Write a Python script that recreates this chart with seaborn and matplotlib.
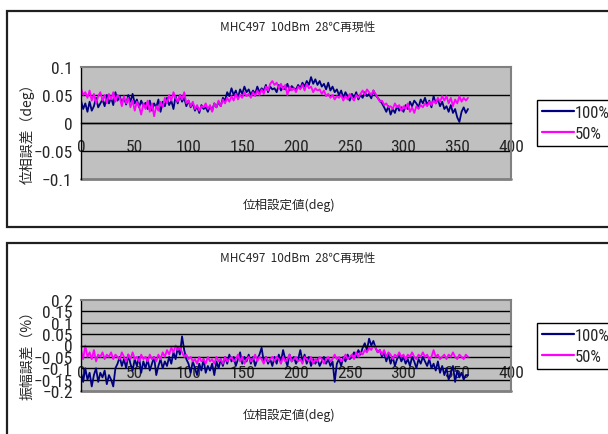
import numpy as np
import pandas as pd
import matplotlib
matplotlib.use("Agg")
import matplotlib.pyplot as plt
from matplotlib import font_manager
from matplotlib.font_manager import FontProperties
from matplotlib.patches import Rectangle
from matplotlib.lines import Line2D
import matplotlib.ticker as mticker
import seaborn as sns

# ---------------- data ----------------
deg = list(range(0, 361, 2))

phase_100 = [
    0.040, 0.025, 0.035, 0.020, 0.038, 0.022, 0.030, 0.045, 0.028, 0.035,
    0.042, 0.030, 0.050, 0.035, 0.045, 0.032, 0.055, 0.040, 0.048, 0.036,
    0.045, 0.033, 0.050, 0.038, 0.052, 0.035, 0.042, 0.028, 0.040, 0.030,
    0.036, 0.025, 0.040, 0.022, 0.035, 0.028, 0.042, 0.020, 0.038, 0.030,
    0.045, 0.032, 0.040, 0.025, 0.048, 0.035, 0.050, 0.038, 0.045, 0.030,
    0.040, 0.028, 0.035, 0.022, 0.030, 0.018, 0.032, 0.025, 0.028, 0.020,
    0.030, 0.022, 0.035, 0.028, 0.038, 0.030, 0.045, 0.040, 0.055, 0.048,
    0.062, 0.050, 0.058, 0.045, 0.060, 0.052, 0.065, 0.055, 0.060, 0.050,
    0.058, 0.052, 0.065, 0.055, 0.062, 0.058, 0.068, 0.055, 0.065, 0.060,
    0.062, 0.055, 0.068, 0.058, 0.065, 0.060, 0.070, 0.058, 0.066, 0.062,
    0.060, 0.068, 0.062, 0.072, 0.065, 0.075, 0.068, 0.082, 0.070, 0.078,
    0.068, 0.075, 0.065, 0.070, 0.060, 0.072, 0.058, 0.065, 0.055, 0.060,
    0.050, 0.058, 0.045, 0.055, 0.048, 0.040, 0.052, 0.045, 0.055, 0.042,
    0.050, 0.045, 0.055, 0.048, 0.052, 0.044, 0.058, 0.050, 0.045, 0.040,
    0.035, 0.028, 0.020, 0.030, 0.015, 0.025, 0.018, 0.030, 0.022, 0.028,
    0.020, 0.032, 0.025, 0.038, 0.030, 0.040, 0.035, 0.028, 0.042, 0.035,
    0.045, 0.032, 0.040, 0.028, 0.048, 0.035, 0.042, 0.030, 0.038, 0.025,
    0.030, 0.020, 0.032, 0.018, 0.025, 0.010, 0.002, 0.020, 0.028, 0.018,
    0.025,
]

phase_50 = [
    0.062, 0.050, 0.055, 0.045, 0.058, 0.040, 0.052, 0.035, 0.048, 0.055,
    0.040, 0.050, 0.035, 0.052, 0.042, 0.055, 0.038, 0.050, 0.045, 0.030,
    0.048, 0.035, 0.045, 0.028, 0.040, 0.022, 0.038, 0.030, 0.015, 0.035,
    0.025, 0.040, 0.020, 0.035, 0.012, 0.030, 0.022, 0.038, 0.028, 0.045,
    0.035, 0.050, 0.040, 0.055, 0.045, 0.038, 0.050, 0.042, 0.055, 0.035,
    0.040, 0.030, 0.038, 0.025, 0.032, 0.022, 0.030, 0.028, 0.035, 0.025,
    0.032, 0.020, 0.035, 0.028, 0.040, 0.030, 0.042, 0.035, 0.045, 0.038,
    0.048, 0.040, 0.052, 0.042, 0.050, 0.045, 0.055, 0.048, 0.052, 0.045,
    0.055, 0.048, 0.058, 0.050, 0.060, 0.052, 0.065, 0.058, 0.070, 0.075,
    0.068, 0.072, 0.062, 0.070, 0.060, 0.068, 0.050, 0.065, 0.058, 0.062,
    0.055, 0.065, 0.060, 0.068, 0.058, 0.070, 0.062, 0.065, 0.055, 0.062,
    0.058, 0.060, 0.052, 0.058, 0.048, 0.052, 0.045, 0.050, 0.042, 0.048,
    0.045, 0.050, 0.040, 0.048, 0.042, 0.052, 0.045, 0.040, 0.050, 0.045,
    0.052, 0.058, 0.050, 0.060, 0.055, 0.050, 0.058, 0.052, 0.045, 0.038,
    0.040, 0.032, 0.035, 0.028, 0.030, 0.025, 0.035, 0.028, 0.032, 0.022,
    0.030, 0.025, 0.035, 0.020, 0.028, 0.018, 0.030, 0.025, 0.032, 0.028,
    0.035, 0.030, 0.038, 0.032, 0.040, 0.035, 0.045, 0.038, 0.048, 0.040,
    0.048, 0.035, 0.045, 0.030, 0.042, 0.035, 0.048, 0.038, 0.045, 0.040,
    0.045,
]

amp_100 = [
    -0.12, -0.16, -0.10, -0.15, -0.12, -0.18, -0.13, -0.10, -0.16, -0.12,
    -0.14, -0.11, -0.17, -0.13, -0.15, -0.18, -0.10, -0.08, -0.05, -0.09,
    -0.06, -0.10, -0.04, -0.08, -0.11, -0.06, -0.09, -0.05, -0.12, -0.07,
    -0.10, -0.06, -0.11, -0.08, -0.05, -0.13, -0.09, -0.06, -0.10, -0.07,
    -0.09, -0.05, -0.08, -0.03, -0.06, -0.01, -0.04, 0.04, -0.02, -0.06,
    -0.08, -0.12, -0.07, -0.10, -0.13, -0.08, -0.11, -0.06, -0.12, -0.09,
    -0.11, -0.08, -0.13, -0.07, -0.10, -0.06, -0.09, -0.05, -0.08, -0.04,
    -0.07, -0.05, -0.09, -0.06, -0.03, -0.08, -0.05, -0.07, -0.04, -0.08,
    -0.05, -0.09, -0.06, -0.04, -0.01, -0.07, -0.05, -0.08, -0.06, -0.09,
    -0.05, -0.08, -0.04, -0.07, -0.02, -0.06, -0.09, -0.04, -0.07, -0.05,
    -0.08, -0.06, -0.02, -0.07, -0.04, -0.08, -0.05, -0.09, -0.06, -0.08,
    -0.06, -0.09, -0.07, -0.05, -0.08, -0.06, -0.09, -0.07, -0.16, -0.08,
    -0.06, -0.09, -0.05, -0.07, -0.04, -0.06, -0.05, -0.03, -0.05, -0.02,
    -0.04, -0.01, 0.01, -0.02, 0.03, 0.00, 0.02, -0.01, -0.03, -0.02,
    -0.05, -0.03, -0.07, -0.04, -0.08, -0.05, -0.09, -0.06, -0.04, -0.07,
    -0.05, -0.08, -0.06, -0.09, -0.05, -0.07, -0.10, -0.06, -0.08, -0.05,
    -0.07, -0.09, -0.06, -0.10, -0.08, -0.11, -0.07, -0.12, -0.09, -0.13,
    -0.10, -0.15, -0.12, -0.09, -0.16, -0.11, -0.14, -0.12, -0.15, -0.13,
    -0.13,
]

amp_50 = [
    -0.02, -0.06, 0.00, -0.05, -0.03, -0.06, -0.02, -0.07, -0.04, -0.05,
    -0.03, -0.06, -0.04, -0.05, -0.03, -0.06, -0.04, -0.05, -0.06, -0.03,
    -0.05, -0.07, -0.04, -0.06, -0.03, -0.06, -0.05, -0.07, -0.04, -0.06,
    -0.05, -0.07, -0.04, -0.06, -0.05, -0.07, -0.04, -0.06, -0.03, -0.05,
    -0.02, -0.04, -0.01, -0.03, 0.00, -0.02, -0.01, -0.03, -0.05, -0.04,
    -0.06, -0.05, -0.07, -0.06, -0.08, -0.05, -0.07, -0.06, -0.08, -0.05,
    -0.07, -0.06, -0.08, -0.05, -0.07, -0.06, -0.08, -0.05, -0.07, -0.06,
    -0.05, -0.07, -0.06, -0.04, -0.07, -0.05, -0.08, -0.06, -0.05, -0.07,
    -0.06, -0.04, -0.07, -0.05, -0.06, -0.08, -0.05, -0.07, -0.06, -0.05,
    -0.07, -0.05, -0.06, -0.08, -0.05, -0.07, -0.06, -0.04, -0.07, -0.06,
    -0.05, -0.07, -0.06, -0.08, -0.05, -0.06, -0.07, -0.05, -0.08, -0.06,
    -0.07, -0.05, -0.06, -0.08, -0.06, -0.05, -0.07, -0.06, -0.04, -0.06,
    -0.05, -0.07, -0.06, -0.04, -0.06, -0.05, -0.04, -0.06, -0.03, -0.05,
    -0.03, -0.04, -0.02, -0.03, -0.01, -0.02, 0.00, -0.01, -0.03, -0.02,
    -0.04, -0.02, -0.05, -0.03, -0.04, -0.06, -0.04, -0.05, -0.03, -0.05,
    -0.04, -0.06, -0.04, -0.05, -0.03, -0.05, -0.06, -0.04, -0.05, -0.03,
    -0.05, -0.04, -0.06, -0.05, -0.02, -0.05, -0.04, -0.06, -0.05, -0.04,
    -0.06, -0.04, -0.05, -0.03, -0.05, -0.06, -0.04, -0.05, -0.06, -0.04,
    -0.05,
]

series_names = ["100%", "50%"]
series_colors = ["#000080", "#FF00FF"]

title_text = "MHC497  10dBm  28℃再現性"
xlabel_text = "位相設定値(deg)"
ylabel_top = "位相誤差（deg）"
ylabel_bot = "振幅誤差（%）"

x_ticks = [0, 50, 100, 150, 200, 250, 300, 350, 400]
x_ticklabels = ["0", "50", "100", "150", "200", "250", "300", "350", "400"]
y_ticks_top = [-0.1, -0.05, 0, 0.05, 0.1]
y_ticklabels_top = ["\u22120.1", "\u22120.05", "0", "0.05", "0.1"]
y_ticks_bot = [-0.2, -0.15, -0.1, -0.05, 0, 0.05, 0.1, 0.15, 0.2]
y_ticklabels_bot = ["\u22120.2", "\u22120.15", "\u22120.1", "\u22120.05", "0",
                    "0.05", "0.1", "0.15", "0.2"]

# ---------------- fonts ----------------
entries = font_manager.fontManager.ttflist


def is_regular(f):
    w = f.weight
    return f.style == "normal" and (w in (400, "normal", "regular", "book"))


narrow_path = None
for key in ["Liberation Sans Narrow", "Roboto Condensed", "Open Sans Condensed",
            "Noto Sans Condensed", "DejaVu Sans Condensed"]:
    for f in entries:
        if is_regular(f) and (f.name == key or
                              (key.startswith(f.name) and "ondensed" in f.fname) or
                              key.replace(" ", "") in f.fname.replace("-", "").replace("_", "")):
            narrow_path = f.fname
            break
    if narrow_path:
        break
if narrow_path is None:
    for f in entries:
        if is_regular(f) and str(f.stretch) in ("condensed", "semi-condensed",
                                                 "extra-condensed", "ultra-condensed"):
            narrow_path = f.fname
            break

if narrow_path:
    num_fp = FontProperties(fname=narrow_path, size=12.5)
    leg_fp = FontProperties(fname=narrow_path, size=12)
else:
    num_fp = FontProperties(family="Liberation Sans", size=11)
    leg_fp = FontProperties(family="Liberation Sans", size=10.5)

cjk = ["Noto Sans CJK JP", "DejaVu Sans"]

sns.set_style("white")
plt.rcParams["font.family"] = ["Liberation Sans", "Noto Sans CJK JP", "DejaVu Sans"]
plt.rcParams["axes.unicode_minus"] = True

W, H = 608, 435
fig = plt.figure(figsize=(W / 100, H / 100), dpi=100)


def fx(px):
    return px / W


def fy(py):
    return 1 - py / H


# outer chart boxes (behind the axes)
for top_px, bot_px in [(12, 228), (244, 460)]:
    fig.patches.append(Rectangle((fx(7), fy(bot_px)), fx(640 - 7), (bot_px - top_px) / H,
                                 transform=fig.transFigure, facecolor="white",
                                 edgecolor="#202020", linewidth=1.6, zorder=-10))


def make_panel(rect_px, y_a, y_b, yticks, yticklabels, ylabel, ylabel_x, title_y,
               xlabel_y, label_pad, legend_cy):
    l, t, r, b = rect_px
    ax = fig.add_axes([fx(l), fy(b), (r - l) / W, (b - t) / H])
    ax.set_zorder(5)
    ax.set_facecolor("#C0C0C0")
    df = pd.DataFrame({
        "deg": deg * 2,
        "err": list(y_a) + list(y_b),
        "series": [series_names[0]] * len(deg) + [series_names[1]] * len(deg),
    })
    sns.lineplot(data=df, x="deg", y="err", hue="series", hue_order=series_names,
                 palette=dict(zip(series_names, series_colors)), ax=ax,
                 legend=False, linewidth=1.3, estimator=None, sort=False)
    ax.set_xlim(0, 400)
    ax.set_ylim(yticks[0], yticks[-1])
    ax.set_yticks(yticks)
    ax.yaxis.set_major_formatter(mticker.FixedFormatter(yticklabels))
    ax.set_xticks(x_ticks)
    ax.xaxis.set_major_formatter(mticker.FixedFormatter(x_ticklabels))
    for yv in yticks[1:-1]:
        ax.axhline(yv, color="black", lw=1.0, zorder=1)
    ax.spines["bottom"].set_position(("data", 0))
    ax.spines["bottom"].set_color("black")
    ax.spines["bottom"].set_linewidth(1.0)
    ax.spines["left"].set_color("black")
    ax.spines["left"].set_linewidth(1.0)
    for s in ["top", "right"]:
        ax.spines[s].set_color("#808080")
        ax.spines[s].set_linewidth(1.5)
    ax.axhline(yticks[0], color="#808080", lw=2.0, zorder=1, clip_on=False)
    ax.tick_params(axis="x", direction="in", length=4, width=1, color="black",
                   pad=label_pad)
    ax.tick_params(axis="y", direction="out", length=4, width=1, color="black",
                   pad=2)
    for lab in ax.get_xticklabels() + ax.get_yticklabels():
        lab.set_fontproperties(num_fp)
    ax.set_xlabel("")
    ax.set_ylabel("")
    # texts
    fig.text(fx(298), fy(title_y), title_text, ha="center", va="center",
             fontsize=8.5, family=cjk)
    fig.text(fx(289), fy(xlabel_y), xlabel_text, ha="center", va="center",
             fontsize=9, family=cjk)
    fig.text(fx(ylabel_x), fy((t + b) / 2 + 6), ylabel, ha="center", va="center",
             rotation=90, fontsize=10, family=cjk)
    handles = [Line2D([], [], color=c, lw=1.6) for c in series_colors]
    leg = ax.legend(handles, series_names, loc="center left",
                    bbox_to_anchor=(fx(537), fy(legend_cy)),
                    bbox_transform=fig.transFigure, frameon=True, fancybox=False,
                    edgecolor="black", framealpha=1, borderaxespad=0,
                    handlelength=1.9, handletextpad=0.08, borderpad=0.3,
                    labelspacing=0.35, prop=leg_fp)
    leg.get_frame().set_linewidth(1.0)
    return ax


make_panel((81, 68, 511, 180), phase_100, phase_50, y_ticks_top, y_ticklabels_top,
           ylabel_top, 27, 27, 205, 11.5, 124)
make_panel((81, 301, 511, 392), amp_100, amp_50, y_ticks_bot, y_ticklabels_bot,
           ylabel_bot, 27, 258, 415, 14, 347)

fig.savefig("out.png", dpi=100)
